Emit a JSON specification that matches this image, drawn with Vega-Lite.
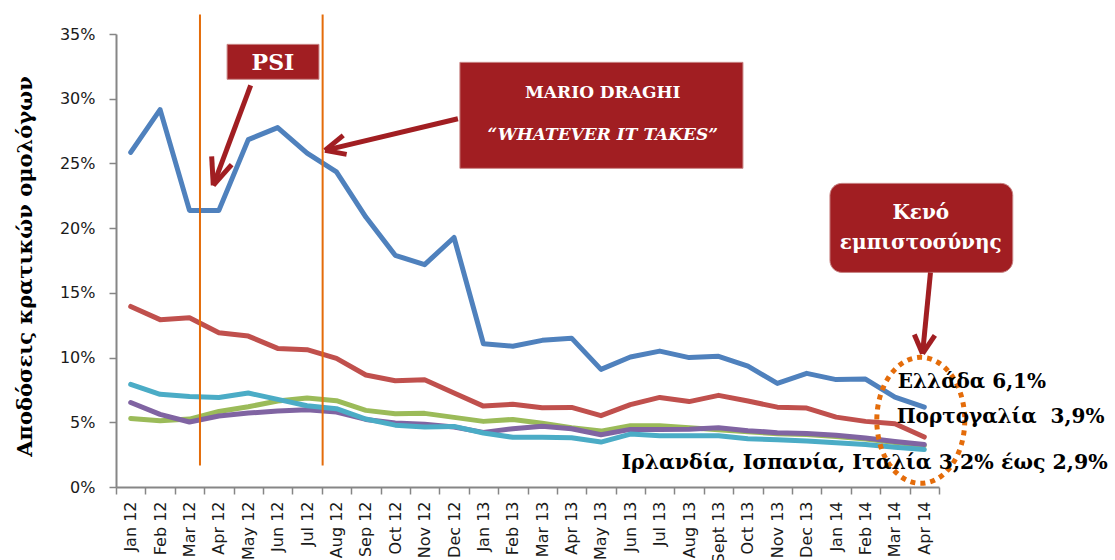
{
  "$schema": "https://vega.github.io/schema/vega-lite/v6.json",
  "width": 823,
  "height": 453,
  "autosize": "none",
  "padding": {"left": 116, "top": 34, "right": 176, "bottom": 73},
  "config": {"view": {"stroke": null}, "font": "DejaVu Sans"},
  "datasets": {
    "yields": [
      {"m": "Jan 12", "Ελλάδα": 0.2585, "Πορτογαλία": 0.1395, "Ιρλανδία": 0.0530, "Ισπανία": 0.0653, "Ιταλία": 0.0793},
      {"m": "Feb 12", "Ελλάδα": 0.2916, "Πορτογαλία": 0.1293, "Ιρλανδία": 0.0512, "Ισπανία": 0.0561, "Ιταλία": 0.0716},
      {"m": "Mar 12", "Ελλάδα": 0.2137, "Πορτογαλία": 0.1308, "Ιρλανδία": 0.0525, "Ισπανία": 0.0502, "Ιταλία": 0.0700},
      {"m": "Apr 12", "Ελλάδα": 0.2137, "Πορτογαλία": 0.1192, "Ιρλανδία": 0.0584, "Ισπανία": 0.0548, "Ιταλία": 0.0692},
      {"m": "May 12", "Ελλάδα": 0.2684, "Πορτογαλία": 0.1166, "Ιρλανδία": 0.0620, "Ισπανία": 0.0571, "Ιταλία": 0.0726},
      {"m": "Jun 12", "Ελλάδα": 0.2777, "Πορτογαλία": 0.1071, "Ιρλανδία": 0.0664, "Ισπανία": 0.0587, "Ιταλία": 0.0677},
      {"m": "Jul 12", "Ελλάδα": 0.2580, "Πορτογαλία": 0.1061, "Ιρλανδία": 0.0687, "Ισπανία": 0.0597, "Ιταλία": 0.0628},
      {"m": "Aug 12", "Ελλάδα": 0.2434, "Πορτογαλία": 0.0994, "Ιρλανδία": 0.0667, "Ισπανία": 0.0579, "Ιταλία": 0.0605},
      {"m": "Sep 12", "Ελλάδα": 0.2086, "Πορτογαλία": 0.0865, "Ιρλανδία": 0.0592, "Ισπανία": 0.0522, "Ιταλία": 0.0525},
      {"m": "Oct 12", "Ελλάδα": 0.1790, "Πορτογαλία": 0.0821, "Ιρλανδία": 0.0566, "Ισπανία": 0.0494, "Ιταλία": 0.0478},
      {"m": "Nov 12", "Ελλάδα": 0.1718, "Πορτογαλία": 0.0829, "Ιρλανδία": 0.0569, "Ισπανία": 0.0484, "Ιταλία": 0.0463},
      {"m": "Dec 12", "Ελλάδα": 0.1928, "Πορτογαλία": 0.0726, "Ιρλανδία": 0.0538, "Ισπανία": 0.0463, "Ιταλία": 0.0468},
      {"m": "Jan 13", "Ελλάδα": 0.1107, "Πορτογαλία": 0.0625, "Ιρλανδία": 0.0507, "Ισπανία": 0.0422, "Ιταλία": 0.0417},
      {"m": "Feb 13", "Ελλάδα": 0.1088, "Πορτογαλία": 0.0639, "Ιρλανδία": 0.0522, "Ισπανία": 0.0450, "Ιταλία": 0.0384},
      {"m": "Mar 13", "Ελλάδα": 0.1133, "Πορτογαλία": 0.0613, "Ιρλανδία": 0.0492, "Ισπανία": 0.0470, "Ιταλία": 0.0384},
      {"m": "Apr 13", "Ελλάδα": 0.1150, "Πορτογαλία": 0.0615, "Ιρλανδία": 0.0458, "Ισπανία": 0.0450, "Ιταλία": 0.0381},
      {"m": "May 13", "Ελλάδα": 0.0909, "Πορτογαλία": 0.0551, "Ιρλανδία": 0.0432, "Ισπανία": 0.0404, "Ιταλία": 0.0347},
      {"m": "Jun 13", "Ελλάδα": 0.1004, "Πορτογαλία": 0.0636, "Ιρλανδία": 0.0474, "Ισπανία": 0.0445, "Ιταλία": 0.0409},
      {"m": "Jul 13", "Ελλάδα": 0.1050, "Πορτογαλία": 0.0692, "Ιρλανδία": 0.0474, "Ισπανία": 0.0445, "Ιταλία": 0.0396},
      {"m": "Aug 13", "Ελλάδα": 0.1000, "Πορτογαλία": 0.0660, "Ιρλανδία": 0.0458, "Ισπανία": 0.0447, "Ιταλία": 0.0396},
      {"m": "Sept 13", "Ελλάδα": 0.1010, "Πορτογαλία": 0.0708, "Ιρλανδία": 0.0443, "Ισπανία": 0.0458, "Ιταλία": 0.0396},
      {"m": "Oct 13", "Ελλάδα": 0.0934, "Πορτογαλία": 0.0664, "Ιρλανδία": 0.0427, "Ισπανία": 0.0435, "Ιταλία": 0.0373},
      {"m": "Nov 13", "Ελλάδα": 0.0800, "Πορτογαλία": 0.0617, "Ιρλανδία": 0.0412, "Ισπανία": 0.0420, "Ιταλία": 0.0366},
      {"m": "Dec 13", "Ελλάδα": 0.0878, "Πορτογαλία": 0.0610, "Ιρλανδία": 0.0406, "Ισπανία": 0.0414, "Ιταλία": 0.0355},
      {"m": "Jan 14", "Ελλάδα": 0.0830, "Πορτογαλία": 0.0540, "Ιρλανδία": 0.0391, "Ισπανία": 0.0399, "Ιταλία": 0.0342},
      {"m": "Feb 14", "Ελλάδα": 0.0834, "Πορτογαλία": 0.0507, "Ιρλανδία": 0.0370, "Ισπανία": 0.0378, "Ιταλία": 0.0329},
      {"m": "Mar 14", "Ελλάδα": 0.0695, "Πορτογαλία": 0.0489, "Ιρλανδία": 0.0344, "Ισπανία": 0.0352, "Ιταλία": 0.0308},
      {"m": "Apr 14", "Ελλάδα": 0.0617, "Πορτογαλία": 0.0386, "Ιρλανδία": 0.0321, "Ισπανία": 0.0329, "Ιταλία": 0.0290}
    ],
    "events": [
      {"x": 2.857, "y": 0.365, "y2": 0.0167},
      {"x": 7.03, "y": 0.365, "y2": 0.0167}
    ],
    "boxes": [
      {"x": 3.78, "x2": 6.905, "y": 0.342, "y2": 0.315},
      {"x": 11.70, "x2": 21.33, "y": 0.3281, "y2": 0.2462}
    ],
    "roundbox": [
      {"x": 24.29, "x2": 30.51, "y": 0.2346, "y2": 0.1658}
    ],
    "arrows": [
      {"x": 4.582, "y": 0.3104, "x2": 3.310, "y2": 0.2331},
      {"x": 3.255, "y": 0.2555, "x2": 3.310, "y2": 0.2331},
      {"x": 3.935, "y": 0.2491, "x2": 3.310, "y2": 0.2331},
      {"x": 11.633, "y": 0.2845, "x2": 7.109, "y2": 0.2601},
      {"x": 7.731, "y": 0.2717, "x2": 7.109, "y2": 0.2601},
      {"x": 7.847, "y": 0.2570, "x2": 7.109, "y2": 0.2601},
      {"x": 27.71, "y": 0.1658, "x2": 27.44, "y2": 0.1030},
      {"x": 27.16, "y": 0.1179, "x2": 27.44, "y2": 0.1030},
      {"x": 27.86, "y": 0.1172, "x2": 27.44, "y2": 0.1030}
    ],
    "ellipse": [{"x": 27.38, "y": 0.0515}],
    "psi": [{"t": "PSI", "x": 5.34, "y": 0.3274}],
    "draghi1": [{"t": "MARIO DRAGHI", "x": 16.56, "y": 0.3042}],
    "draghi2": [{"t": "“WHATEVER IT TAKES”", "x": 16.56, "y": 0.2717}],
    "keno": [
      {"t": "Κενό", "x": 27.38, "y": 0.2114},
      {"t": "εμπιστοσύνης", "x": 27.38, "y": 0.1883}
    ],
    "endlabels": [
      {"t": "Ελλάδα 6,1%", "x": 26.6, "y": 0.0808},
      {"t": "Πορτογαλία \u00a03,9%", "x": 26.56, "y": 0.0538}
    ],
    "lowlabel": [{"t": "Ιρλανδία, Ισπανία, Ιταλία 3,2% έως 2,9%", "x": 33.74, "y": 0.0182}]
  },
  "layer": [
    {
      "data": {"name": "yields"},
      "transform": [{"fold": ["Ελλάδα", "Πορτογαλία", "Ιρλανδία", "Ισπανία", "Ιταλία"], "as": ["s", "v"]}],
      "mark": {"type": "line", "strokeWidth": 5, "strokeJoin": "round", "strokeCap": "round"},
      "encoding": {
        "x": {
          "field": "m", "type": "ordinal", "sort": null,
          "scale": {"type": "band", "paddingInner": 0, "paddingOuter": 0},
          "axis": {
            "title": null, "labelAngle": -90, "tickBand": "extent", "tickSize": 7, "labelPadding": 7,
            "labelFont": "DejaVu Sans", "labelFontSize": 16, "labelColor": "#1a1a1a",
            "domainColor": "#868686", "tickColor": "#868686", "domainWidth": 2, "tickWidth": 1.5,
            "grid": false, "labelOverlap": false
          }
        },
        "y": {
          "field": "v", "type": "quantitative",
          "scale": {"domain": [0, 0.35], "nice": false},
          "axis": {
            "values": [0, 0.05, 0.1, 0.15, 0.2, 0.25, 0.3, 0.35], "format": ".0%",
            "title": "Αποδόσεις κρατικών ομολόγων", "titleFont": "DejaVu Serif", "titleFontSize": 21,
            "titleFontWeight": "bold", "titleColor": "#000000", "titleX": -91, "titleY": 232,
            "titleAngle": 270, "titleAlign": "center", "titleBaseline": "middle",
            "labelFont": "DejaVu Sans", "labelFontSize": 16, "labelColor": "#1a1a1a",
            "domainColor": "#868686", "tickColor": "#868686", "domainWidth": 2, "tickWidth": 1.5,
            "tickSize": 7, "labelPadding": 14, "grid": false
          }
        },
        "color": {
          "field": "s", "type": "nominal",
          "scale": {"domain": ["Ελλάδα", "Πορτογαλία", "Ιρλανδία", "Ισπανία", "Ιταλία"], "range": ["#4F81BD", "#C0504D", "#9BBB59", "#8064A2", "#4BACC6"]},
          "legend": null
        }
      }
    },
    {
      "layer": [
        {
          "data": {"name": "events"},
          "mark": {"type": "rule", "color": "#E46C0A", "strokeWidth": 2},
          "encoding": {
            "x": {"field": "x", "type": "quantitative", "scale": {"domain": [0, 28], "nice": false, "zero": false}, "axis": null},
            "y": {"field": "y", "type": "quantitative", "scale": {"domain": [0, 0.35], "nice": false}},
            "y2": {"field": "y2"}
          }
        },
        {
          "data": {"name": "boxes"},
          "mark": {"type": "rect", "color": "#A11E22", "stroke": "#C98585", "strokeWidth": 1},
          "encoding": {
            "x": {"field": "x", "type": "quantitative", "scale": {"domain": [0, 28], "nice": false, "zero": false}, "axis": null},
            "x2": {"field": "x2"},
            "y": {"field": "y", "type": "quantitative", "scale": {"domain": [0, 0.35], "nice": false}},
            "y2": {"field": "y2"}
          }
        },
        {
          "data": {"name": "roundbox"},
          "mark": {"type": "rect", "color": "#A11E22", "stroke": "#C98585", "strokeWidth": 1, "cornerRadius": 12},
          "encoding": {
            "x": {"field": "x", "type": "quantitative", "scale": {"domain": [0, 28], "nice": false, "zero": false}, "axis": null},
            "x2": {"field": "x2"},
            "y": {"field": "y", "type": "quantitative", "scale": {"domain": [0, 0.35], "nice": false}},
            "y2": {"field": "y2"}
          }
        },
        {
          "data": {"name": "arrows"},
          "mark": {"type": "rule", "color": "#A11E22", "strokeWidth": 5, "strokeCap": "butt"},
          "encoding": {
            "x": {"field": "x", "type": "quantitative", "scale": {"domain": [0, 28], "nice": false, "zero": false}, "axis": null},
            "x2": {"field": "x2"},
            "y": {"field": "y", "type": "quantitative", "scale": {"domain": [0, 0.35], "nice": false}},
            "y2": {"field": "y2"}
          }
        },
        {
          "data": {"name": "ellipse"},
          "mark": {
            "type": "point", "filled": false, "stroke": "#E46C0A", "strokeWidth": 5, "strokeDash": [5, 5], "opacity": 1,
            "shape": "M 0.698 0 C 0.698 0.5523 0.3855 1 0 1 C -0.3855 1 -0.698 0.5523 -0.698 0 C -0.698 -0.5523 -0.3855 -1 0 -1 C 0.3855 -1 0.698 -0.5523 0.698 0 Z",
            "size": 15876
          },
          "encoding": {
            "x": {"field": "x", "type": "quantitative", "scale": {"domain": [0, 28], "nice": false, "zero": false}, "axis": null},
            "y": {"field": "y", "type": "quantitative", "scale": {"domain": [0, 0.35], "nice": false}}
          }
        },
        {
          "data": {"name": "psi"},
          "mark": {"type": "text", "font": "DejaVu Serif", "fontWeight": "bold", "fontSize": 22, "color": "#FFFFFF", "align": "center", "baseline": "middle"},
          "encoding": {
            "x": {"field": "x", "type": "quantitative", "scale": {"domain": [0, 28], "nice": false, "zero": false}, "axis": null},
            "y": {"field": "y", "type": "quantitative", "scale": {"domain": [0, 0.35], "nice": false}},
            "text": {"field": "t"}
          }
        },
        {
          "data": {"name": "draghi1"},
          "mark": {"type": "text", "font": "DejaVu Serif", "fontWeight": "bold", "fontSize": 17, "color": "#FFFFFF", "align": "center", "baseline": "middle"},
          "encoding": {
            "x": {"field": "x", "type": "quantitative", "scale": {"domain": [0, 28], "nice": false, "zero": false}, "axis": null},
            "y": {"field": "y", "type": "quantitative", "scale": {"domain": [0, 0.35], "nice": false}},
            "text": {"field": "t"}
          }
        },
        {
          "data": {"name": "draghi2"},
          "mark": {"type": "text", "font": "DejaVu Serif", "fontWeight": "bold", "fontStyle": "italic", "fontSize": 17, "color": "#FFFFFF", "align": "center", "baseline": "middle"},
          "encoding": {
            "x": {"field": "x", "type": "quantitative", "scale": {"domain": [0, 28], "nice": false, "zero": false}, "axis": null},
            "y": {"field": "y", "type": "quantitative", "scale": {"domain": [0, 0.35], "nice": false}},
            "text": {"field": "t"}
          }
        },
        {
          "data": {"name": "keno"},
          "mark": {"type": "text", "font": "DejaVu Serif", "fontWeight": "bold", "fontSize": 20, "color": "#FFFFFF", "align": "center", "baseline": "middle"},
          "encoding": {
            "x": {"field": "x", "type": "quantitative", "scale": {"domain": [0, 28], "nice": false, "zero": false}, "axis": null},
            "y": {"field": "y", "type": "quantitative", "scale": {"domain": [0, 0.35], "nice": false}},
            "text": {"field": "t"}
          }
        },
        {
          "data": {"name": "endlabels"},
          "mark": {"type": "text", "font": "DejaVu Serif", "fontWeight": "bold", "fontSize": 20, "color": "#000000", "align": "left", "baseline": "middle"},
          "encoding": {
            "x": {"field": "x", "type": "quantitative", "scale": {"domain": [0, 28], "nice": false, "zero": false}, "axis": null},
            "y": {"field": "y", "type": "quantitative", "scale": {"domain": [0, 0.35], "nice": false}},
            "text": {"field": "t"}
          }
        },
        {
          "data": {"name": "lowlabel"},
          "mark": {"type": "text", "font": "DejaVu Serif", "fontWeight": "bold", "fontSize": 20.5, "color": "#000000", "align": "right", "baseline": "middle"},
          "encoding": {
            "x": {"field": "x", "type": "quantitative", "scale": {"domain": [0, 28], "nice": false, "zero": false}, "axis": null},
            "y": {"field": "y", "type": "quantitative", "scale": {"domain": [0, 0.35], "nice": false}},
            "text": {"field": "t"}
          }
        }
      ]
    }
  ],
  "resolve": {"scale": {"x": "independent"}, "axis": {"x": "independent"}}
}
